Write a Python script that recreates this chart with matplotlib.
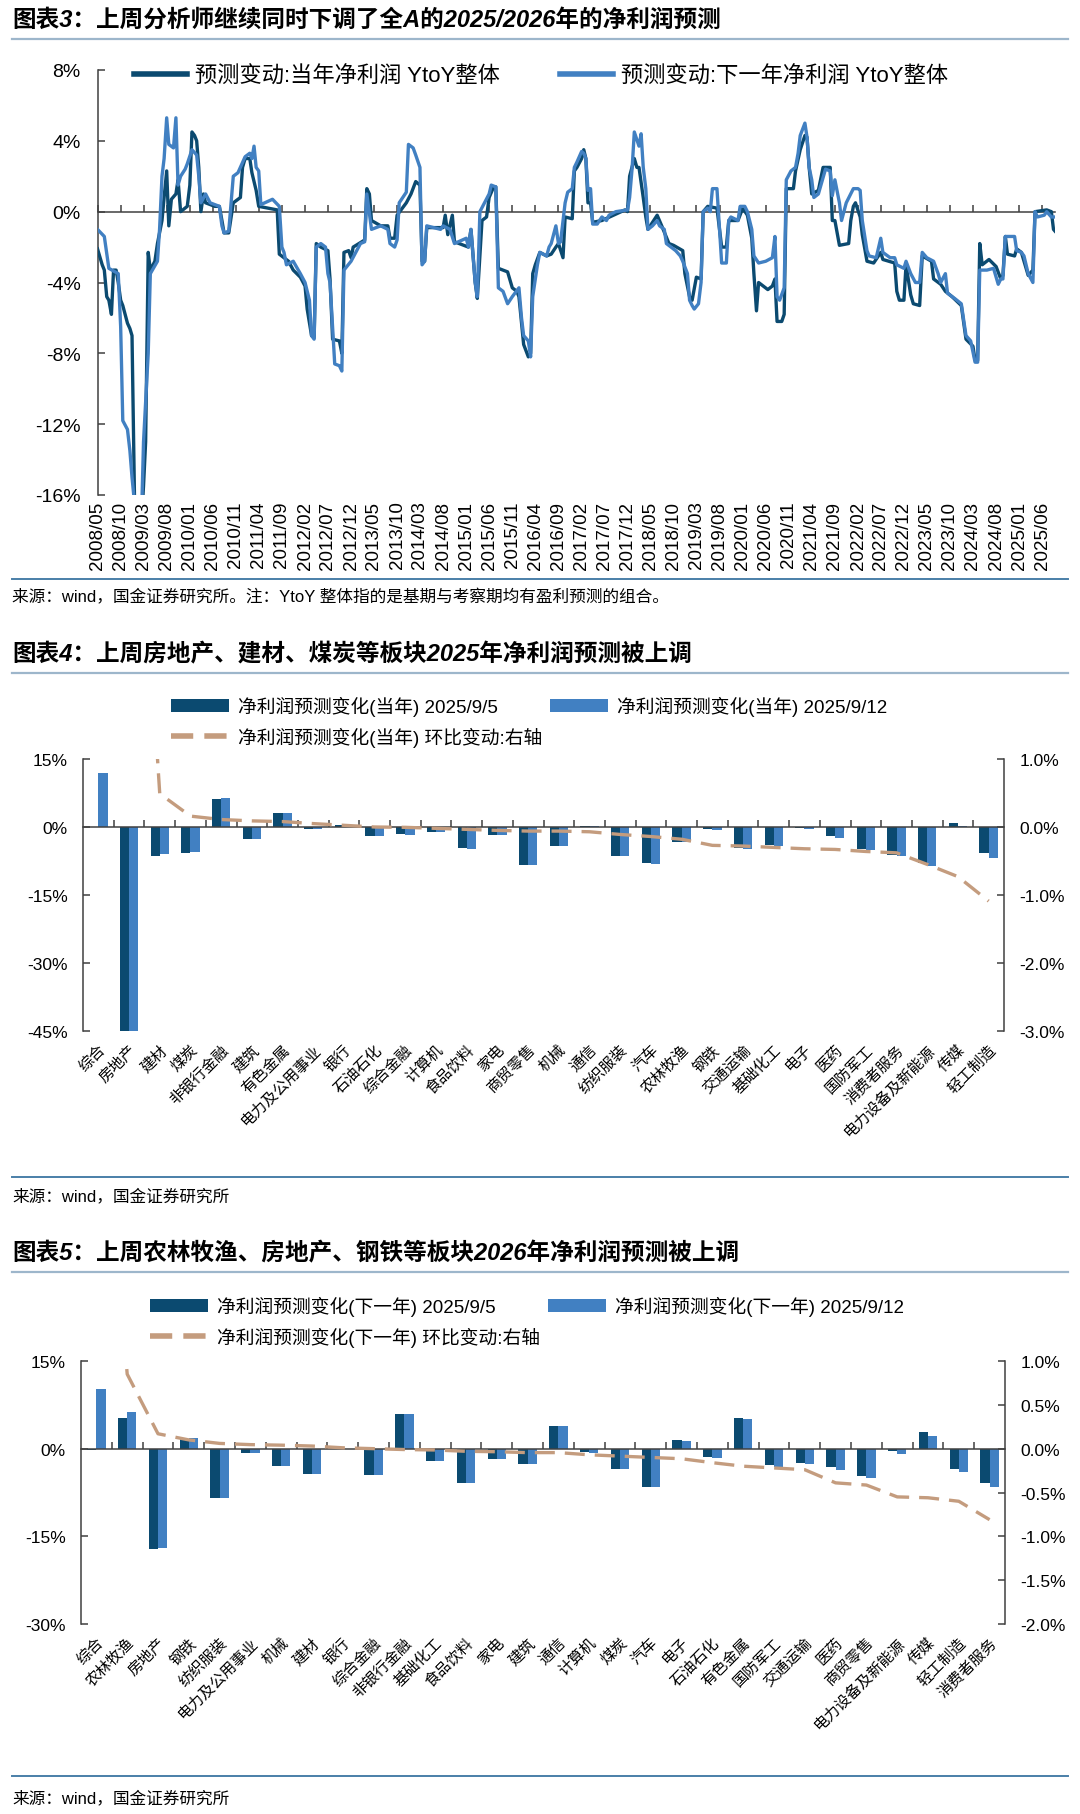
import numpy as np
import pandas as pd
import matplotlib
matplotlib.use('Agg')
import matplotlib.pyplot as plt
import matplotlib.dates as mdates
from matplotlib.patches import Patch
from matplotlib.lines import Line2D
from matplotlib.ticker import FuncFormatter

plt.rcParams['font.family'] = ['Liberation Sans', 'Noto Sans CJK SC', 'DejaVu Sans']
plt.rcParams['axes.unicode_minus'] = False

DARK = '#0B4A70'
LIGHT = '#4180C2'
TAN = '#C49C7E'
AXC = '#404040'

# ---------------- Chart 1 data ----------------
title1 = '图表3：上周分析师继续同时下调了全A的2025/2026年的净利润预测'
src1 = '来源：wind，国金证券研究所。注：YtoY 整体指的是基期与考察期均有盈利预测的组合。'
leg1 = ['预测变动:当年净利润 YtoY整体', '预测变动:下一年净利润 YtoY整体']

light_dates = ['2008-05-01', '2008-06-15', '2008-07-15', '2008-09-15', '2008-10-01', '2008-10-15', '2008-11-15',
               '2008-12-01', '2008-12-15', '2009-01-01', '2009-02-15', '2009-03-01', '2009-04-01', '2009-04-15',
               '2009-06-01', '2009-06-15', '2009-07-01', '2009-07-15', '2009-08-01', '2009-08-15', '2009-09-15',
               '2009-10-01', '2009-10-15', '2009-11-01', '2009-12-01', '2009-12-15', '2010-01-15', '2010-02-15',
               '2010-03-01', '2010-03-15', '2010-04-15', '2010-05-15', '2010-07-15', '2010-08-01', '2010-08-15',
               '2010-09-15', '2010-10-15', '2010-11-15', '2011-01-01', '2011-02-01', '2011-02-15', '2011-03-01',
               '2011-03-15', '2011-04-01', '2011-04-15', '2011-07-01', '2011-08-15', '2011-09-01', '2011-09-15',
               '2011-10-01', '2011-11-15', '2012-01-01', '2012-02-01', '2012-03-01', '2012-03-15', '2012-04-01',
               '2012-04-15', '2012-05-15', '2012-06-15', '2012-07-01', '2012-07-15', '2012-08-15', '2012-09-15',
               '2012-10-01', '2012-10-15', '2012-12-01', '2013-01-01', '2013-02-01', '2013-03-01', '2013-03-15',
               '2013-04-15', '2013-06-15', '2013-08-01', '2013-08-15', '2013-09-15', '2013-10-01', '2013-10-15',
               '2013-12-01', '2013-12-15', '2014-01-15', '2014-02-01', '2014-03-01', '2014-03-15', '2014-04-01',
               '2014-04-15', '2014-07-15', '2014-08-01', '2014-09-15', '2014-10-15', '2015-01-01', '2015-01-15',
               '2015-02-01', '2015-03-01', '2015-03-15', '2015-04-01', '2015-06-01', '2015-06-15', '2015-07-15',
               '2015-08-01', '2015-09-01', '2015-10-01', '2015-11-01', '2015-12-15', '2016-01-01', '2016-01-15',
               '2016-02-15', '2016-03-01', '2016-03-15', '2016-04-15', '2016-05-01', '2016-06-15', '2016-07-01',
               '2016-07-15', '2016-08-15', '2016-09-01', '2016-09-15', '2016-10-15', '2016-11-01', '2016-12-01',
               '2016-12-15', '2017-01-01', '2017-02-01', '2017-02-15', '2017-03-01', '2017-03-15', '2017-04-01',
               '2017-04-15', '2017-05-15', '2017-06-15', '2017-07-15', '2017-08-01', '2017-09-15', '2017-12-01',
               '2017-12-15', '2018-01-01', '2018-01-15', '2018-02-15', '2018-03-01', '2018-03-15', '2018-04-01',
               '2018-04-15', '2018-05-15', '2018-06-15', '2018-07-01', '2018-08-01', '2018-08-15', '2018-09-15',
               '2018-10-15', '2018-11-15', '2018-12-01', '2019-01-01', '2019-01-15', '2019-02-01', '2019-02-15',
               '2019-03-15', '2019-04-01', '2019-04-15', '2019-05-15', '2019-06-01', '2019-06-15', '2019-07-15',
               '2019-08-15', '2019-09-15', '2019-10-01', '2019-10-15', '2019-12-01', '2019-12-15', '2020-01-15',
               '2020-02-01', '2020-03-01', '2020-03-15', '2020-04-15', '2020-06-01', '2020-07-15', '2020-08-01',
               '2020-08-15', '2020-09-01', '2020-10-01', '2020-10-15', '2020-11-15', '2020-12-15', '2021-01-01',
               '2021-01-15', '2021-02-15', '2021-03-01', '2021-03-15', '2021-04-01', '2021-04-15', '2021-05-15',
               '2021-06-01', '2021-07-01', '2021-08-01', '2021-08-15', '2021-09-01', '2021-10-01', '2021-10-15',
               '2021-11-15', '2022-01-01', '2022-02-01', '2022-02-15', '2022-03-01', '2022-04-01', '2022-04-15',
               '2022-06-01', '2022-07-01', '2022-07-15', '2022-09-01', '2022-10-01', '2022-10-15', '2022-12-01',
               '2022-12-15', '2023-01-15', '2023-02-15', '2023-03-15', '2023-04-01', '2023-05-01', '2023-06-15',
               '2023-07-15', '2023-08-01', '2023-09-01', '2023-09-15', '2023-10-15', '2023-11-01', '2023-12-15',
               '2024-01-15', '2024-02-15', '2024-03-15', '2024-04-01', '2024-04-15', '2024-06-01', '2024-07-15',
               '2024-08-15', '2024-09-01', '2024-09-15', '2024-10-01', '2024-12-01', '2024-12-15', '2025-01-15',
               '2025-02-01', '2025-03-01', '2025-04-01', '2025-04-15', '2025-05-01', '2025-06-15', '2025-07-01',
               '2025-08-01', '2025-08-25']
light_vals = [-1.0, -1.4, -3.2, -3.5, -6.5, -11.8, -12.3,
              -13.5, -15.0, -16.5, -17.5, -13.0, -8.0, -3.5,
              -2.8, -1.0, 2.0, 3.0, 5.3, 3.8, 3.6,
              5.3, 1.5, 2.0, 2.4, 2.7, 3.5, 3.2,
              2.0, 0.5, 1.0, 0.5, 0.3, -0.8, -1.2,
              -1.1, 2.0, 2.2, 3.1, 3.3, 3.0, 3.7,
              2.5, 2.3, 0.4, 0.7, 0.3, -2.0, -2.3,
              -3.0, -2.8, -3.5, -4.0, -5.0, -7.0, -7.2,
              -2.0, -1.8, -2.0, -3.5, -4.0, -8.6, -8.7,
              -9.0, -3.3, -2.8, -2.3, -1.8, -1.7, 1.0,
              -1.0, -0.8, -1.0, -1.8, -2.0, -1.6, 0.5,
              1.1, 3.8, 3.6, 3.2, 2.5, -3.0, -2.8,
              -0.8, -1.0, -0.8, -1.0, -1.8, -1.5, -2.0,
              -1.0, -4.0, -4.8, 0.0, 1.0, 1.5, 1.4,
              -4.3, -4.5, -5.2, -4.8, -4.3, -6.0, -7.0,
              -7.3, -8.2, -4.8, -3.0, -2.3, -2.5, -2.0,
              -1.8, -0.8, -1.8, -1.7, 0.5, 1.1, 1.3,
              2.5, 2.8, 3.4, 3.3, 3.0, 1.2, 1.3,
              -0.7, -0.7, -0.3, -0.5, -0.2, 0.0, 0.1,
              0.8, 2.5, 4.5, 3.7, 4.4, 2.5, 1.3,
              -1.0, -0.8, -0.5, -0.8, -1.0, -1.8, -2.0,
              -2.2, -2.5, -2.8, -3.5, -5.0, -5.3, -5.5,
              -5.2, -4.0, 0.0, 0.2, 0.0, 1.3, 1.3,
              -2.9, -2.9, -0.5, -0.3, -0.5, 0.3, 0.3,
              0.0, -1.0, -2.5, -2.9, -2.8, -2.6, -1.4,
              -4.8, -5.0, -4.3, 1.8, 2.3, 2.5, 3.3,
              4.3, 5.0, 4.2, 2.5, 1.8, 0.8, 1.0,
              1.5, 2.4, 2.3, 0.9, 1.8, 0.5, -0.5,
              0.5, 1.3, 1.3, 1.2, -0.5, -2.2, -2.5,
              -2.6, -1.5, -2.3, -2.6, -2.6, -3.0, -3.2,
              -2.8, -3.5, -4.0, -4.0, -2.3, -2.6, -2.8,
              -3.5, -4.0, -3.5, -4.6, -4.8, -4.9, -5.2,
              -7.0, -7.3, -8.5, -8.5, -3.3, -3.3, -3.2,
              -4.1, -3.8, -3.8, -1.4, -1.4, -2.2, -2.3,
              -2.5, -3.5, -4.0, 0.0, -0.3, -0.2, 0.0,
              -0.3, -0.3]

dark_dates = ['2008-05-01', '2008-05-15', '2008-06-01', '2008-06-15', '2008-07-01', '2008-07-15', '2008-08-01',
              '2008-08-15', '2008-09-01', '2008-09-15', '2008-10-01', '2008-10-15', '2008-11-15', '2008-12-01',
              '2008-12-15', '2009-01-01', '2009-02-15', '2009-03-01', '2009-03-15', '2009-04-01', '2009-04-15',
              '2009-05-15', '2009-06-01', '2009-07-01', '2009-07-15', '2009-08-01', '2009-08-15', '2009-09-01',
              '2009-10-01', '2009-10-15', '2009-11-01', '2009-12-15', '2010-01-01', '2010-01-15', '2010-02-01',
              '2010-02-15', '2010-03-01', '2010-03-15', '2010-04-01', '2010-04-15', '2010-06-15', '2010-07-15',
              '2010-08-01', '2010-08-15', '2010-09-15', '2010-10-15', '2010-12-01', '2010-12-15', '2011-01-01',
              '2011-02-01', '2011-02-15', '2011-03-15', '2011-04-01', '2011-08-01', '2011-08-15', '2011-09-15',
              '2011-10-15', '2011-11-15', '2012-01-01', '2012-02-01', '2012-02-15', '2012-03-15', '2012-04-01',
              '2012-04-15', '2012-05-15', '2012-07-01', '2012-07-15', '2012-08-01', '2012-09-15', '2012-10-01',
              '2012-10-15', '2012-11-15', '2012-12-01', '2012-12-15', '2013-03-01', '2013-03-15', '2013-04-01',
              '2013-04-15', '2013-06-15', '2013-08-01', '2013-08-15', '2013-09-15', '2013-10-01', '2013-12-01',
              '2014-01-01', '2014-02-01', '2014-03-01', '2014-03-15', '2014-04-01', '2014-04-15', '2014-08-01',
              '2014-08-15', '2014-09-01', '2014-10-01', '2014-10-15', '2014-12-15', '2015-01-15', '2015-02-01',
              '2015-03-01', '2015-03-15', '2015-04-15', '2015-05-15', '2015-06-01', '2015-07-01', '2015-07-15',
              '2015-08-01', '2015-10-01', '2015-11-01', '2015-12-01', '2015-12-15', '2016-01-15', '2016-02-15',
              '2016-03-01', '2016-03-15', '2016-04-01', '2016-05-01', '2016-06-15', '2016-07-15', '2016-08-15',
              '2016-09-01', '2016-10-01', '2016-10-15', '2016-12-01', '2016-12-15', '2017-01-01', '2017-02-01',
              '2017-02-15', '2017-03-01', '2017-03-15', '2017-04-01', '2017-04-15', '2017-06-15', '2017-11-15',
              '2017-12-01', '2017-12-15', '2018-01-15', '2018-02-01', '2018-02-15', '2018-03-15', '2018-04-01',
              '2018-04-15', '2018-06-15', '2018-07-15', '2018-09-01', '2018-10-01', '2018-12-01', '2018-12-15',
              '2019-01-15', '2019-02-01', '2019-03-01', '2019-04-01', '2019-04-15', '2019-05-15', '2019-07-15',
              '2019-08-15', '2019-09-15', '2019-10-01', '2019-12-01', '2020-01-01', '2020-02-01', '2020-03-01',
              '2020-03-15', '2020-04-01', '2020-04-15', '2020-06-15', '2020-07-15', '2020-08-01', '2020-08-15',
              '2020-09-15', '2020-10-01', '2020-10-15', '2020-12-01', '2020-12-15', '2021-01-15', '2021-02-15',
              '2021-03-01', '2021-03-15', '2021-04-01', '2021-05-15', '2021-06-15', '2021-08-01', '2021-08-15',
              '2021-09-01', '2021-10-01', '2021-12-01', '2021-12-15', '2022-01-01', '2022-01-15', '2022-02-15',
              '2022-03-01', '2022-04-01', '2022-05-15', '2022-07-01', '2022-07-15', '2022-10-01', '2022-10-15',
              '2022-11-01', '2022-12-01', '2022-12-15', '2023-01-15', '2023-02-01', '2023-03-15', '2023-04-01',
              '2023-06-01', '2023-06-15', '2023-08-01', '2023-09-01', '2023-10-15', '2023-12-15', '2024-01-15',
              '2024-03-01', '2024-03-15', '2024-04-01', '2024-04-15', '2024-05-01', '2024-06-15', '2024-08-01',
              '2024-09-01', '2024-09-15', '2024-10-01', '2024-10-15', '2024-12-01', '2024-12-15', '2025-01-15',
              '2025-03-01', '2025-04-01', '2025-04-15', '2025-07-01', '2025-08-01', '2025-08-15', '2025-08-25']
dark_vals = [-2.1, -2.5, -3.0, -3.3, -4.8, -5.0, -5.8,
             -3.3, -3.3, -4.0, -5.0, -5.3, -6.3, -6.6,
             -7.0, -16.5, -17.5, -15.5, -13.0, -2.3, -3.3,
             -2.8, -1.8, -0.5, 0.8, 2.3, -0.8, 0.7,
             1.0, 1.8, 0.0, 0.3, 1.5, 4.5, 4.3,
             4.0, 2.5, 0.0, 1.0, 0.5, 0.3, 0.3,
             -0.5, -1.2, -1.2, 0.5, 0.8, 2.5, 3.0,
             3.0, 2.2, 1.2, 0.3, 0.1, -2.4, -2.6,
             -2.8, -3.3, -3.7, -4.2, -5.5, -7.0, -7.1,
             -1.8, -2.0, -2.2, -3.8, -7.2, -7.3, -8.0,
             -2.3, -2.2, -2.6, -2.0, -1.6, 1.3, 1.0,
             -0.5, -0.8, -0.8, -1.5, -1.5, -0.2, 0.5,
             1.0, 1.7, 1.5, -2.8, -2.8, -0.9, -0.9,
             -0.2, -1.3, -0.2, -1.7, -1.9, -2.0, -1.0,
             -4.0, -4.9, -0.5, -0.3, 0.8, 1.4, 1.4,
             -3.2, -3.4, -4.3, -4.5, -4.8, -7.5, -8.2,
             -8.0, -3.5, -3.0, -2.3, -2.5, -2.4, -2.0,
             -1.8, -2.6, -0.3, -0.4, 2.3, 2.5, 3.0,
             3.5, 3.0, 0.5, 0.5, -0.6, -0.5, 0.1,
             0.0, 2.0, 3.0, 2.5, 2.5, 0.8, -0.3,
             -1.0, -0.2, -0.8, -1.8, -1.9, -2.2, -3.5,
             -4.8, -5.0, -3.7, -3.8, 0.0, 0.3, 0.2,
             -2.0, -2.0, -0.5, -0.5, 0.2, -0.2, -1.5,
             -3.5, -5.6, -4.0, -4.4, -4.2, -3.8, -6.2,
             -6.2, -5.8, 1.3, 1.3, 2.3, 3.5, 4.3,
             4.2, 2.5, 1.0, 1.2, 2.5, 2.5, -0.5,
             -0.5, -1.9, -1.8, -0.5, 0.3, 0.5, -0.3,
             -1.3, -2.8, -2.9, -2.3, -2.7, -2.9, -4.5,
             -5.0, -5.0, -3.0, -4.7, -5.2, -5.3, -2.5,
             -2.8, -3.8, -4.1, -4.5, -4.8, -5.3, -7.2,
             -7.6, -8.4, -8.4, -1.8, -3.0, -2.7, -3.1,
             -3.8, -3.6, -1.4, -2.4, -2.5, -2.1, -2.3,
             -3.6, -3.3, 0.0, 0.1, 0.0, -1.0, -1.1]

tick_labels1 = ['2008/05', '2008/10', '2009/03', '2009/08', '2010/01', '2010/06', '2010/11', '2011/04',
                '2011/09', '2012/02', '2012/07', '2012/12', '2013/05', '2013/10', '2014/03', '2014/08',
                '2015/01', '2015/06', '2015/11', '2016/04', '2016/09', '2017/02', '2017/07', '2017/12',
                '2018/05', '2018/10', '2019/03', '2019/08', '2020/01', '2020/06', '2020/11', '2021/04',
                '2021/09', '2022/02', '2022/07', '2022/12', '2023/05', '2023/10', '2024/03', '2024/08',
                '2025/01', '2025/06']
yticks1 = [-16, -12, -8, -4, 0, 4, 8]

# ---------------- Chart 2 data ----------------
title2 = '图表4：上周房地产、建材、煤炭等板块2025年净利润预测被上调'
src2 = '来源：wind，国金证券研究所'
leg2 = ['净利润预测变化(当年) 2025/9/5', '净利润预测变化(当年) 2025/9/12', '净利润预测变化(当年) 环比变动:右轴']
cats2 = ['综合', '房地产', '建材', '煤炭', '非银行金融', '建筑', '有色金属', '电力及公用事业', '银行', '石油石化',
         '综合金融', '计算机', '食品饮料', '家电', '商贸零售', '机械', '通信', '纺织服装', '汽车', '农林牧渔',
         '钢铁', '交通运输', '基础化工', '电子', '医药', '国防军工', '消费者服务', '电力设备及新能源', '传媒', '轻工制造']
bar2_0905 = [0.1, -46.0, -6.4, -5.7, 6.1, -2.7, 3.0, -0.5, 0.4, -1.9,
             -1.6, -1.1, -4.7, -1.8, -8.4, -4.1, 0.3, -6.3, -8.0, -3.2,
             -0.4, -4.6, -4.0, -0.3, -2.0, -4.9, -6.2, -7.9, 0.8, -5.7]
bar2_0912 = [11.9, -46.0, -6.0, -5.6, 6.3, -2.7, 3.1, -0.4, 0.2, -1.9,
             -1.7, -1.2, -4.8, -1.8, -8.4, -4.2, 0.2, -6.4, -8.2, -3.3,
             -0.6, -4.8, -4.3, -0.5, -2.4, -5.1, -6.5, -8.5, 0.3, -6.8]
line2 = [10.0, 7.5, 0.49, 0.16, 0.11, 0.09, 0.08, 0.05, 0.025, 0.0,
         -0.005, -0.02, -0.035, -0.05, -0.06, -0.06, -0.07, -0.11, -0.14, -0.18,
         -0.27, -0.28, -0.30, -0.32, -0.33, -0.36, -0.38, -0.55, -0.73, -1.09]

# ---------------- Chart 3 data ----------------
title3 = '图表5：上周农林牧渔、房地产、钢铁等板块2026年净利润预测被上调'
src3 = '来源：wind，国金证券研究所'
leg3 = ['净利润预测变化(下一年) 2025/9/5', '净利润预测变化(下一年) 2025/9/12', '净利润预测变化(下一年) 环比变动:右轴']
cats3 = ['综合', '农林牧渔', '房地产', '钢铁', '纺织服装', '电力及公用事业', '机械', '建材', '银行', '综合金融',
         '非银行金融', '基础化工', '食品饮料', '家电', '建筑', '通信', '计算机', '煤炭', '汽车', '电子',
         '石油石化', '有色金属', '国防军工', '交通运输', '医药', '商贸零售', '电力设备及新能源', '传媒', '轻工制造', '消费者服务']
bar3_0905 = [-0.2, 5.3, -17.2, 1.7, -8.5, -0.8, -2.9, -4.4, 0.05, -4.5,
             6.0, -2.1, -5.9, -1.8, -2.6, 3.9, -0.6, -3.4, -6.5, 1.4,
             -1.5, 5.2, -2.8, -2.5, -3.2, -4.7, -0.4, 2.8, -3.5, -5.9]
bar3_0912 = [10.2, 6.2, -17.0, 1.8, -8.5, -0.7, -2.9, -4.4, 0.0, -4.5,
             6.0, -2.1, -5.9, -1.8, -2.6, 3.85, -0.8, -3.4, -6.5, 1.3,
             -1.6, 5.0, -3.1, -2.7, -3.6, -5.1, -0.9, 2.2, -4.0, -6.5]
line3 = [5.0, 0.85, 0.17, 0.10, 0.06, 0.046, 0.04, 0.03, 0.01, 0.0,
         -0.01, -0.015, -0.03, -0.035, -0.045, -0.045, -0.07, -0.085, -0.10, -0.115,
         -0.16, -0.20, -0.22, -0.24, -0.39, -0.415, -0.55, -0.56, -0.60, -0.81]

# ---------------- Figure ----------------
W, H = 1080, 1815
fig = plt.figure(figsize=(W / 100, H / 100), dpi=100)


def fx(px):
    return px / W


def fy(py):
    return 1 - py / H


def add_axes_px(left, top, right, bottom):
    return fig.add_axes([fx(left), fy(bottom), (right - left) / W, (bottom - top) / H])


def title(text, y):
    fig.text(fx(12), fy(y), text, fontsize=17, fontweight='bold', style='italic',
             ha='left', va='center', color='black')


def hline(y, color, lw):
    fig.add_artist(Line2D([fx(12), fx(1068)], [fy(y), fy(y)], color=color, lw=lw))


def source(text, y):
    fig.text(fx(12), fy(y), text, fontsize=12, ha='left', va='center', color='black')


pct0 = FuncFormatter(lambda v, p: f'{v:.0f}%')
pct1 = FuncFormatter(lambda v, p: f'{v:.1f}%')

# ===== Chart 1 =====
title(title1, 20)
hline(40, '#9DB6CB', 1.6)
ax1 = add_axes_px(97.5, 71, 1055, 496)
dx = mdates.date2num(pd.to_datetime(dark_dates))
lx = mdates.date2num(pd.to_datetime(light_dates))
ax1.plot(dx, dark_vals, color=DARK, lw=2.4, solid_joinstyle='round', zorder=3)
ax1.plot(lx, light_vals, color=LIGHT, lw=2.4, solid_joinstyle='round', zorder=4)
ax1.set_ylim(-16, 8)
ax1.set_yticks(yticks1)
ax1.yaxis.set_major_formatter(pct0)
tick_dates1 = mdates.date2num(pd.to_datetime([s.replace('/', '-') + '-01' for s in tick_labels1]))
ax1.set_xlim(dx[0], dx[-1])
for s in ['top', 'right']:
    ax1.spines[s].set_visible(False)
ax1.spines['bottom'].set_position(('data', 0))
for s in ['left', 'bottom']:
    ax1.spines[s].set_color(AXC)
    ax1.spines[s].set_linewidth(1.1)
ax1.set_xticks(tick_dates1)
ax1.tick_params(axis='x', direction='in', length=5, width=1.1, color=AXC, labelbottom=False)
ax1.tick_params(axis='y', direction='in', length=5, width=1.1, color=AXC, labelsize=14, pad=12)
sec1 = ax1.secondary_xaxis('bottom')
sec1.set_xticks(tick_dates1, labels=tick_labels1)
sec1.tick_params(length=0, labelsize=13.5, labelrotation=90, pad=4)
sec1.spines['bottom'].set_visible(False)
ax1.legend(handles=[Line2D([], [], color=DARK, lw=4), Line2D([], [], color=LIGHT, lw=4)], labels=leg1,
           loc='center left', bbox_to_anchor=(fx(134), fy(77)), bbox_transform=fig.transFigure,
           ncol=2, frameon=False, fontsize=16, handlelength=2.4, handletextpad=0.35,
           columnspacing=2.7, borderpad=0, borderaxespad=0)
hline(580, '#4A7FA8', 1.4)
source(src1, 597)


def bar_chart(ax, cats, b1, b2, line, ylim, yticks, rlim, rticks, legs, leg_x, leg_y):
    x = np.arange(len(cats))
    ax.bar(x - 0.15, b1, 0.3, color=DARK, zorder=2)
    ax.bar(x + 0.15, b2, 0.3, color=LIGHT, zorder=2)
    ax.set_xlim(-0.5, len(cats) - 0.5)
    ax.set_ylim(*ylim)
    ax.set_yticks(yticks)
    ax.yaxis.set_major_formatter(pct0)
    for s in ['top', 'right']:
        ax.spines[s].set_visible(False)
    ax.spines['bottom'].set_position(('data', 0))
    for s in ['left', 'bottom']:
        ax.spines[s].set_color(AXC)
        ax.spines[s].set_linewidth(1.1)
    ax.set_xticks(np.arange(0.5, len(cats) - 0.5, 1))
    ax.tick_params(axis='x', direction='in', length=5, width=1.1, color=AXC, labelbottom=False)
    ax.tick_params(axis='y', direction='in', length=5, width=1.1, color=AXC, labelsize=12.5, pad=11)
    sec = ax.secondary_xaxis('bottom')
    sec.set_xticks(x, labels=cats)
    sec.tick_params(length=0, labelsize=11, pad=8)
    sec.spines['bottom'].set_visible(False)
    for lab in sec.get_xticklabels():
        lab.set_rotation(45)
        lab.set_ha('right')
        lab.set_rotation_mode('anchor')
    axr = ax.twinx()
    axr.plot(x, line, color=TAN, lw=2.4, dashes=(6, 3), zorder=5)
    axr.set_ylim(*rlim)
    axr.set_yticks(rticks)
    axr.yaxis.set_major_formatter(pct1)
    for s in ['top', 'left', 'bottom']:
        axr.spines[s].set_visible(False)
    axr.spines['right'].set_color(AXC)
    axr.spines['right'].set_linewidth(1.1)
    axr.tick_params(axis='y', direction='in', length=5, width=1.1, color=AXC, labelsize=12.5, pad=11)
    h1 = Patch(facecolor=DARK)
    h2 = Patch(facecolor=LIGHT)
    h3 = Line2D([], [], color=TAN, lw=4, dashes=(4, 2))
    axr.legend(handles=[h1, h3, h2], labels=[legs[0], legs[2], legs[1]],
               loc='upper left', bbox_to_anchor=(fx(leg_x), fy(leg_y)), bbox_transform=fig.transFigure,
               ncol=2, frameon=False, fontsize=13.5, handlelength=3.1, handleheight=0.7,
               handletextpad=0.45, columnspacing=0.45, labelspacing=0.58, borderpad=0, borderaxespad=0)
    return ax, axr


# ===== Chart 2 =====
title(title2, 655)
hline(674, '#9DB6CB', 1.6)
ax2 = add_axes_px(83, 760, 1004, 1032)
bar_chart(ax2, cats2, bar2_0905, bar2_0912, line2, (-45, 15), [-45, -30, -15, 0, 15],
          (-3, 1), [-3, -2, -1, 0, 1], leg2, 171, 697)
hline(1178, '#4A7FA8', 1.4)
source(src2, 1196)

# ===== Chart 3 =====
title(title3, 1254)
hline(1273, '#9DB6CB', 1.6)
ax3 = add_axes_px(81, 1362, 1005, 1625)
bar_chart(ax3, cats3, bar3_0905, bar3_0912, line3, (-30, 15), [-30, -15, 0, 15],
          (-2, 1), [-2.0, -1.5, -1.0, -0.5, 0.0, 0.5, 1.0], leg3, 150, 1297)
hline(1777, '#4A7FA8', 1.4)
source(src3, 1798)

fig.savefig('out.png', dpi=100)
